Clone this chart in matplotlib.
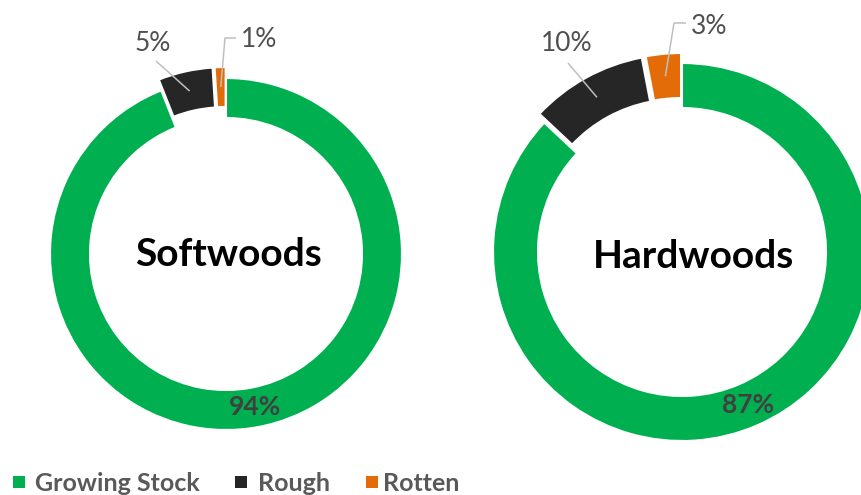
import matplotlib
matplotlib.use("Agg")
import matplotlib.pyplot as plt
import numpy as np

# Share of volume by tree class
categories = ["Growing Stock", "Rough", "Rotten"]
softwoods = [94, 5, 1]
hardwoods = [87, 10, 3]
colors = ["#00B050", "#262626", "#E36C09"]

W, H = 862, 495
plt.rcParams['font.family'] = ['Lato', 'DejaVu Sans']

fig = plt.figure(figsize=(W / 100, H / 100), dpi=100)
ax = fig.add_axes([0, 0, 1, 1])


def py(y):
    """Convert a top-down pixel row to the axes' y coordinate."""
    return H - y


def wedge_point(w, frac=0.5):
    """Point at the angular middle of a ring wedge, halfway across the ring."""
    ang = np.deg2rad((w.theta1 + w.theta2) / 2)
    rad = w.r - w.width * frac
    cx, cy = w.center
    return cx + rad * np.cos(ang), cy + rad * np.sin(ang)


def donut(values, cx, cy, r, width, explode_px, title, title_xy, callouts):
    explode = [0] + [explode_px] * (len(values) - 1)
    wedges, _ = ax.pie(values, colors=colors, startangle=90, counterclock=False,
                       radius=r, center=(cx, py(cy)), explode=explode,
                       wedgeprops=dict(width=width, edgecolor='white', linewidth=1.5))
    # big slice label sits on the ring
    x, y = wedge_point(wedges[0])
    ax.text(x, y, f"{values[0]}%", ha='center', va='center', fontsize=19,
            fontweight='bold', color='#404040')
    # small slices get callouts with leader lines
    for w, v, (lx, ly, path) in zip(wedges[1:], values[1:], callouts):
        ax.text(lx, py(ly), f"{v}%", ha='center', va='center', fontsize=19,
                color='#505050')
        ax_, ay_ = wedge_point(w)
        xs = [p[0] for p in path] + [ax_]
        ys = [py(p[1]) for p in path] + [ay_]
        ax.plot(xs, ys, color='#BFBFBF', lw=1.1, solid_capstyle='butt')
    ax.text(title_xy[0], py(title_xy[1]), title, ha='center', va='center',
            fontsize=28, fontweight='bold', color='black')


donut(softwoods, 226, 254, 176, 40, 11, "Softwoods", (229, 255),
      [(153, 43, [(156, 61)]),
       (259, 39, [(236, 38), (225, 38)])])
donut(hardwoods, 682, 252, 189, 45, 10, "Hardwoods", (694, 257),
      [(567, 43, [(568, 63)]),
       (709, 26, [(686, 23), (674, 23)])])

# legend row along the bottom edge
marker_x = [19, 241, 372]
label_x = [35, 258, 383]
for mx, tx, c, name in zip(marker_x, label_x, colors, categories):
    ax.plot([mx], [py(482)], marker='s', markersize=8.6, markeredgewidth=0,
            color=c, linestyle='')
    ax.text(tx, py(491), name, ha='left', va='baseline', fontsize=18,
            fontweight='bold', color='#595959')

ax.set_xlim(0, W)
ax.set_ylim(0, H)
ax.set_aspect('equal')
ax.axis('off')

fig.savefig("out.png", dpi=100)
